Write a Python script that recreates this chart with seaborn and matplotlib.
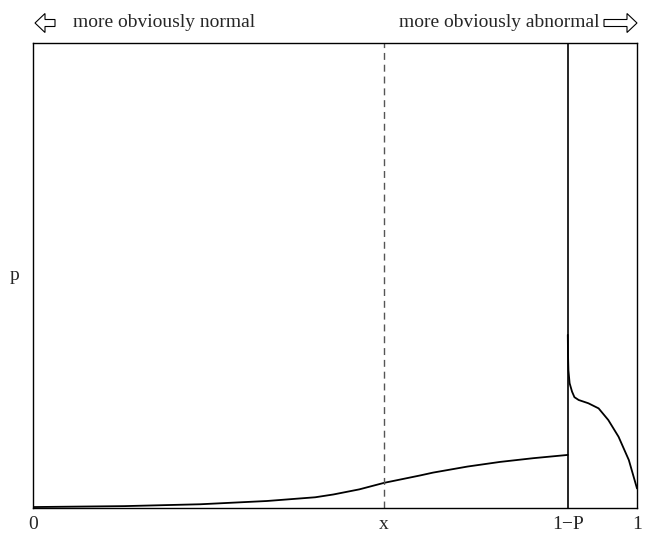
import matplotlib
matplotlib.use('Agg')
from matplotlib import pyplot as plt
from matplotlib.patches import FancyArrow
from matplotlib.transforms import IdentityTransform
import seaborn as sns
import pandas as pd

sns.set_theme(style='white')
plt.rcParams['font.family'] = ['Liberation Serif', 'DejaVu Sans']

# positions on the score axis (0..1)
x_mark = 0.581
one_minus_p = 0.885

# density below 1-P
left_x = [0.0, 0.151, 0.277, 0.387, 0.467, 0.497, 0.540, 0.581, 0.641, 0.662,
          0.719, 0.773, 0.828, 0.885]
left_p = [0.002, 0.004, 0.008, 0.015, 0.023, 0.029, 0.040, 0.054, 0.070, 0.076,
          0.089, 0.099, 0.107, 0.114]

# density above 1-P
right_x = [0.885, 0.8853, 0.886, 0.888, 0.892, 0.896, 0.903, 0.919, 0.936,
           0.952, 0.969, 0.986, 0.9995]
right_p = [0.372, 0.332, 0.296, 0.268, 0.250, 0.238, 0.232, 0.225, 0.214,
           0.189, 0.153, 0.103, 0.042]

tick_pos = [0.0, x_mark, one_minus_p, 1.0]
tick_labels = ['0', 'x', '1\u2212P', '1']

fig = plt.figure(figsize=(6.47, 5.35), dpi=100)
ax = fig.add_axes([0.051, 0.0505, 0.934, 0.870])

df_left = pd.DataFrame({'score': left_x, 'p': left_p})
df_right = pd.DataFrame({'score': right_x, 'p': right_p})
sns.lineplot(data=df_left, x='score', y='p', color='black', lw=1.3, ax=ax)
sns.lineplot(data=df_right, x='score', y='p', color='black', lw=1.3, ax=ax)

ax.axvline(x_mark, color='#555555', ls=(0, (5, 3.5)), lw=1)
ax.axvline(one_minus_p, color='black', lw=1.2)

ax.set_xlim(0, 1)
ax.set_ylim(0, 1)
ax.set_xticks(tick_pos)
ax.set_xticklabels(tick_labels, fontsize=14)
ax.set_yticks([])
ax.tick_params(axis='x', length=0, pad=6)
ax.set_xlabel('')
ax.set_ylabel('p', rotation=0, fontsize=14, labelpad=13, va='center')
for s in ax.spines.values():
    s.set_color('black')
    s.set_linewidth(1)
    s.set_visible(True)

# hollow arrows at the top, in pixel units
fig.add_artist(FancyArrow(55, 512, -20, 0, width=7, head_width=19, head_length=10,
                          length_includes_head=True, fill=False, lw=0.8,
                          color='black', transform=IdentityTransform()))
fig.add_artist(FancyArrow(604, 512, 33, 0, width=7, head_width=19, head_length=10,
                          length_includes_head=True, fill=False, lw=0.8,
                          color='black', transform=IdentityTransform()))
fig.text(0.113, 0.9495, 'more obviously normal', fontsize=14, va='baseline', ha='left')
fig.text(0.926, 0.9495, 'more obviously abnormal', fontsize=14, va='baseline', ha='right')

fig.savefig('out.png', dpi=100)
